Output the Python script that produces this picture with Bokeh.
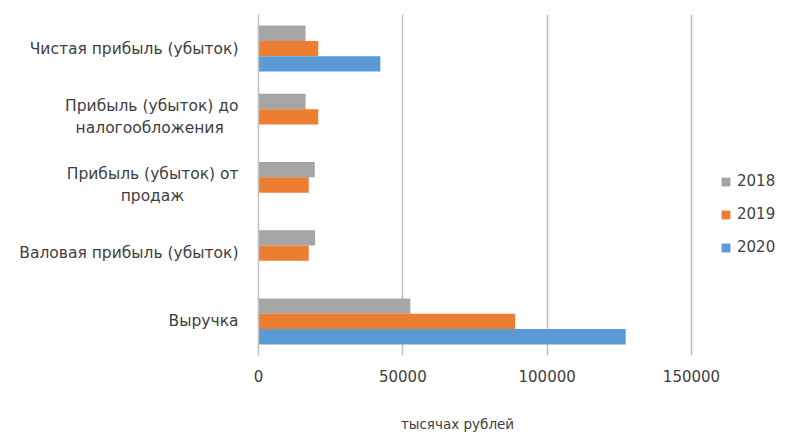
from bokeh.plotting import figure
from bokeh.models import (FactorRange, Range1d, FixedTicker, NumeralTickFormatter, Legend,
                          LegendItem, ColumnDataSource, Label)
from bokeh.layouts import column
from bokeh.transform import dodge
from bokeh.embed import file_html
from bokeh.resources import INLINE

# Data (bottom to top on the chart)
categories = [
    "Выручка",
    "Валовая прибыль (убыток)",
    "Прибыль (убыток) от продаж",
    "Прибыль (убыток) до налогообложения",
    "Чистая прибыль (убыток)",
]
# displayed (wrapped) labels; second lines padded with no-break spaces so they look centred
wrapped = {
    "Прибыль (убыток) от продаж": "Прибыль (убыток) от\nпродаж" + "\u00a0" * 11,
    "Прибыль (убыток) до налогообложения": "Прибыль (убыток) до\nналогообложения" + "\u00a0" * 3,
}
years = ["2018", "2019", "2020"]
v2018 = [52600, 19600, 19500, 16300, 16300]
v2019 = [88900, 17400, 17400, 20700, 20700]
v2020 = [127200, 0, 0, 0, 42200]
x_ticks = [0, 50000, 100000, 150000]
x_title = "тысячах рублей"

colors = ["#A5A5A5", "#ED7D31", "#5B9BD5"]
FONT = "DejaVu Sans"
TXT = "#404040"

factors = [wrapped.get(c, c) for c in categories]
src = ColumnDataSource(dict(cat=factors, y2018=v2018, y2019=v2019, y2020=v2020))

# frame spans 258..798 px; the value axis 0..150000 occupies 258..691 px,
# the rest of the frame hosts the legend
FRAME_W = 540
AXIS_W = 433
x_end = x_ticks[-1] * FRAME_W / AXIS_W

p = figure(
    width=798, height=400,
    y_range=FactorRange(*factors),
    x_range=Range1d(0, x_end),
    output_backend="svg", toolbar_location=None,
    min_border_left=258, min_border_right=0,
    min_border_top=14, min_border_bottom=45,
)
p.outline_line_color = None

bh = 0.225
offsets = [bh, 0.0, -bh]
renderers = []
for yr, off, col in zip(years, offsets, colors):
    r = p.hbar(y=dodge("cat", off, range=p.y_range), left=0, right="y" + yr,
               height=bh, source=src, fill_color=col, line_color=None)
    renderers.append(r)

# Axes
p.xaxis.ticker = FixedTicker(ticks=x_ticks)
p.xaxis.formatter = NumeralTickFormatter(format="0")
p.xaxis.axis_line_color = None
p.xaxis.major_tick_line_color = None
p.xaxis.minor_tick_line_color = None
p.xaxis.major_label_text_font = FONT
p.xaxis.major_label_text_font_size = "15px"
p.xaxis.major_label_text_color = TXT
p.xaxis.major_label_standoff = 8

p.yaxis.axis_line_color = "#BFBFBF"
p.yaxis.axis_line_width = 1.5
p.yaxis.major_tick_line_color = None
p.yaxis.minor_tick_line_color = None
p.yaxis.major_label_text_font = FONT
p.yaxis.major_label_text_font_size = "15.5px"
p.yaxis.major_label_text_color = TXT
p.yaxis.major_label_standoff = 14

p.ygrid.grid_line_color = None
p.xgrid.ticker = FixedTicker(ticks=x_ticks[1:])
p.xgrid.grid_line_color = "#BFBFBF"
p.xgrid.grid_line_width = 1.5

legend = Legend(
    items=[LegendItem(label=yr, renderers=[r]) for yr, r in zip(years, renderers)],
    location=(462, 98),
    padding=0, margin=0, spacing=13,
    glyph_width=11, glyph_height=11, label_height=20,
    label_standoff=6,
    border_line_color=None, background_fill_alpha=0,
    label_text_font=FONT, label_text_font_size="15px", label_text_color=TXT,
)
p.add_layout(legend)

# caption strip under the chart (value-axis title); its frame is aligned with the main frame
cap = figure(width=798, height=34, output_backend="svg", toolbar_location=None,
             x_range=Range1d(0, 1), y_range=Range1d(0, 1),
             min_border=0)
cap.axis.visible = False
cap.grid.grid_line_color = None
cap.outline_line_color = None
cap.add_layout(Label(x=199, y=11, x_units="screen", y_units="screen", text=x_title,
                     text_align="center", text_baseline="middle",
                     text_font=FONT, text_font_size="13.5px", text_color=TXT))

open("out.html", "w").write(file_html(column(p, cap, spacing=0), INLINE))
